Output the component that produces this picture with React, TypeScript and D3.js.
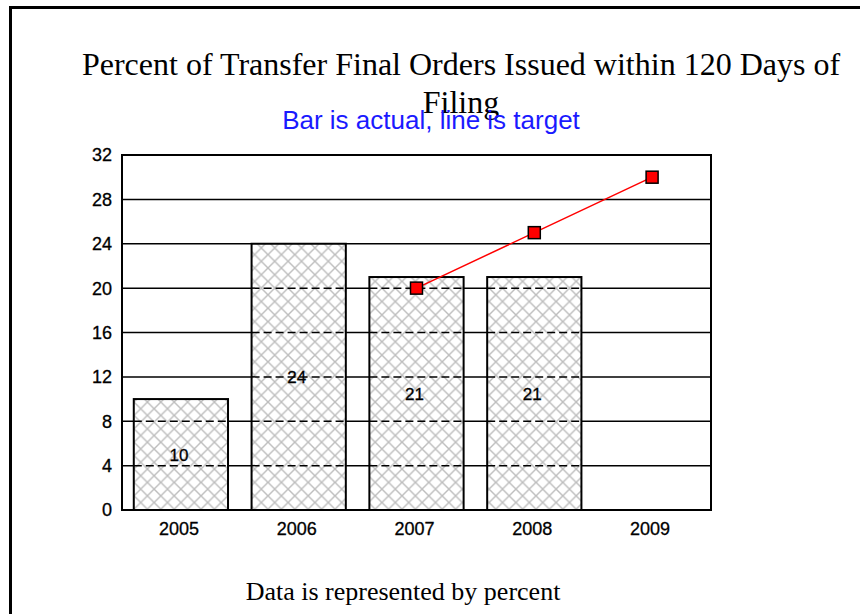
import React from "react";
import * as d3 from "d3";

const years = ["2005", "2006", "2007", "2008", "2009"];
const actual: (number | null)[] = [10, 24, 21, 21, null];
const target: (number | null)[] = [null, null, 20, 25, 30];
const yTicks = [0, 4, 8, 12, 16, 20, 24, 28, 32];
const titleLines = ["Percent of Transfer Final Orders Issued within 120 Days of", "Filing"];
const subtitle = "Bar is actual, line is target";
const footnote = "Data is represented by percent";

const W = 860;
const H = 614;
const plot = { left: 122, right: 711, top: 155, bottom: 510 };
const SERIF = "'Liberation Serif', 'Times New Roman', serif";
const SANS = "'Liberation Sans', Arial, sans-serif";

export default function App() {
  const x = d3
    .scaleBand<string>()
    .domain(years)
    .range([plot.left, plot.right])
    .paddingInner(0.2)
    .paddingOuter(0.1);
  const y = d3.scaleLinear().domain([0, 32]).range([plot.bottom, plot.top]);

  const bars = years
    .map((yr, i) => ({ yr, v: actual[i] }))
    .filter((d) => d.v != null) as { yr: string; v: number }[];
  const pts = years
    .map((yr, i) => ({ yr, v: target[i] }))
    .filter((d) => d.v != null) as { yr: string; v: number }[];

  const line = d3
    .line<{ yr: string; v: number }>()
    .x((d) => (x(d.yr) as number) + x.bandwidth() / 2)
    .y((d) => y(d.v));

  const ms = 12;

  return (
    <svg
      width={W}
      height={H}
      style={{ position: "absolute", left: 0, top: 0, background: "#fff" }}
    >
      <defs>
        <pattern id="hatch" width={13.4} height={13.4} patternUnits="userSpaceOnUse">
          <rect width={13.4} height={13.4} fill="#fff" />
          <path d="M0,0 L13.4,13.4 M13.4,0 L0,13.4" stroke="#bdbdbd" strokeWidth={1.4} />
        </pattern>
      </defs>
      <rect width={W} height={H} fill="#fff" />
      {/* outer frame */}
      <rect x={10.5} y={7.5} width={W + 20} height={H + 20} fill="none" stroke="#000" strokeWidth={3} />

      {/* titles */}
      {titleLines.map((t, i) => (
        <text
          key={t}
          x={461}
          y={75 + i * 38}
          textAnchor="middle"
          fontFamily={SERIF}
          fontSize={32}
          fill="#000"
        >
          {t}
        </text>
      ))}
      <text x={431} y={129} textAnchor="middle" fontFamily={SANS} fontSize={26} fill="#1a1aff">
        {subtitle}
      </text>

      {/* gridlines */}
      {yTicks.map((t) => (
        <line
          key={"g" + t}
          x1={plot.left}
          x2={plot.right}
          y1={y(t)}
          y2={y(t)}
          stroke="#000"
          strokeWidth={1.5}
        />
      ))}

      {/* bars */}
      {bars.map((d) => (
        <g key={d.yr}>
          <rect
            x={x(d.yr)}
            y={y(d.v)}
            width={x.bandwidth()}
            height={y(0) - y(d.v)}
            fill="url(#hatch)"
          />
          {yTicks
            .filter((t) => t > 0 && t < d.v)
            .map((t) => (
              <line
                key={t}
                x1={x(d.yr)}
                x2={(x(d.yr) as number) + x.bandwidth()}
                y1={y(t)}
                y2={y(t)}
                stroke="#000"
                strokeWidth={1.5}
                strokeDasharray="8,4"
              />
            ))}
          <rect
            x={x(d.yr)}
            y={y(d.v)}
            width={x.bandwidth()}
            height={y(0) - y(d.v)}
            fill="none"
            stroke="#000"
            strokeWidth={2}
          />
          <text
            x={(x(d.yr) as number) + x.bandwidth() / 2 - 2}
            y={(y(d.v) + y(0)) / 2}
            dy="0.36em"
            textAnchor="middle"
            fontFamily={SANS}
            fontSize={17}
            fill="#000"
            stroke="#000"
            strokeWidth={0.3}
          >
            {d.v}
          </text>
        </g>
      ))}

      {/* plot frame */}
      <rect
        x={plot.left}
        y={plot.top}
        width={plot.right - plot.left}
        height={plot.bottom - plot.top}
        fill="none"
        stroke="#000"
        strokeWidth={2}
      />

      {/* y tick labels */}
      {yTicks.map((t) => (
        <text
          key={"yl" + t}
          x={112}
          y={y(t)}
          dy="0.36em"
          textAnchor="end"
          fontFamily={SANS}
          fontSize={18}
          fill="#000"
          stroke="#000"
          strokeWidth={0.3}
        >
          {t}
        </text>
      ))}

      {/* x tick labels */}
      {years.map((yr) => (
        <text
          key={"xl" + yr}
          x={(x(yr) as number) + x.bandwidth() / 2 - 2}
          y={535}
          textAnchor="middle"
          fontFamily={SANS}
          fontSize={18}
          fill="#000"
          stroke="#000"
          strokeWidth={0.3}
        >
          {yr}
        </text>
      ))}

      {/* target line */}
      <path d={line(pts) || ""} fill="none" stroke="#ff0000" strokeWidth={1.5} />
      {pts.map((d) => (
        <rect
          key={"m" + d.yr}
          x={(x(d.yr) as number) + x.bandwidth() / 2 - ms / 2}
          y={y(d.v) - ms / 2}
          width={ms}
          height={ms}
          fill="#ff0000"
          stroke="#000"
          strokeWidth={1.5}
        />
      ))}

      {/* footnote */}
      <text x={403} y={600} textAnchor="middle" fontFamily={SERIF} fontSize={26} fill="#000">
        {footnote}
      </text>
    </svg>
  );
}
